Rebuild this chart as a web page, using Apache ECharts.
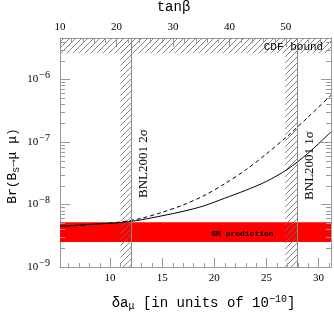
<!DOCTYPE html>
<html><head><meta charset="utf-8">
<script src="https://cdn.jsdelivr.net/npm/echarts@6/dist/echarts.min.js"></script>
<style>html,body{margin:0;padding:0;background:#fff}#c{width:334px;height:314px}</style>
</head><body><div id="c"></div>
<script>
// ---- data ----
const deltaA   = [5.2, 7, 9, 11, 13, 15, 17, 19, 21, 23, 25, 27, 29, 31.2];
const brSolid  = [4.47e-9, 4.68e-9, 4.9e-9, 5.13e-9, 5.69e-9, 6.6e-9, 7.76e-9, 9.5e-9, 1.26e-8, 1.68e-8, 2.34e-8, 3.63e-8, 6.6e-8, 1.45e-7];
const brDashed = [4.47e-9, 4.62e-9, 4.9e-9, 5.25e-9, 6.0e-9, 7.5e-9, 9.8e-9, 1.38e-8, 2.14e-8, 3.55e-8, 6.45e-8, 1.23e-7, 2.5e-7, 5.6e-7];
const smBand    = [2.5e-9, 5.2e-9];
const bnl2sigma = [11, 12];
const bnl1sigma = [26.8, 28];
const cdfBound  = 2.62e-6;
const xRange = [5.2, 31.2];
const tanBetaRange = [10, 58];
const yRange = [1e-9, 4.6e-6];
const labels = {
  bnl2: 'BNL2001 2σ', bnl1: 'BNL2001 1σ', sm: 'SM prediction', cdf: 'CDF bound',
  yTitle: 'Br(B{sub|S}→μ μ)'
};

// ---- minor tick positions ----
const yMinor = [];
for (let e = -9; e <= -6; e++) for (let k = 2; k <= 9; k++) { const v = k * Math.pow(10, e); if (v < yRange[1]) yMinor.push(v); }
const xMinor = [];
for (let v = 6; v <= 31; v++) if (v % 5 !== 0) xMinor.push(v);
const tbMinor = [];
for (let v = 12; v < 58; v += 2) if (v % 10 !== 0) tbMinor.push(v);

function hatch() {
  const c = document.createElement('canvas'); c.width = 6; c.height = 6;
  const g = c.getContext('2d'); g.strokeStyle = '#707070'; g.lineWidth = 0.85;
  g.beginPath();
  g.moveTo(0, 6); g.lineTo(6, 0);
  g.moveTo(-1, 1); g.lineTo(1, -1);
  g.moveTo(5, 7); g.lineTo(7, 5);
  g.stroke();
  return c;
}
const hatchFill = { image: hatch(), repeat: 'repeat' };

const AX = '#999';
const SERIF = 'Liberation Serif';
const MONO = 'Liberation Mono';

const chart = echarts.init(document.getElementById('c'), null, { renderer: 'canvas' });
const tickStyle = { stroke: AX, lineWidth: 1 };
const option = {
  animation: false,
  grid: { left: 60, right: 3, top: 38, bottom: 47, containLabel: false, outerBoundsMode: 'none' },
  graphic: [
    { type: 'text', x: 13, y: 166, rotation: Math.PI / 2, silent: true,
      style: { text: labels.yTitle, fontFamily: MONO, fontSize: 13, fill: '#000', align: 'center', verticalAlign: 'middle',
        rich: { sub: { fontFamily: MONO, fontSize: 9, padding: [7, 0, 0, 0] } } } }
  ],
  xAxis: [
    { type: 'value', min: xRange[0], max: xRange[1], position: 'bottom',
      axisLine: { lineStyle: { color: AX } },
      axisTick: { inside: true, length: 9, lineStyle: { color: AX } },
      splitLine: { show: false },
      axisLabel: { showMinLabel: false, showMaxLabel: false, fontFamily: SERIF, fontSize: 11, color: '#000', margin: 6 },
      name: 'δa{sub|μ} [in units of 10{sup|−10}]', nameLocation: 'middle', nameGap: 27,
      nameTextStyle: { fontFamily: MONO, fontSize: 14, color: '#000', padding: [0, 0, 0, 16],
        rich: { sub: { fontFamily: MONO, fontSize: 10, padding: [7, 0, 0, 0] },
                sup: { fontFamily: MONO, fontSize: 10, padding: [0, 0, 8, 0] } } } },
    { type: 'value', min: tanBetaRange[0], max: tanBetaRange[1], interval: 10, position: 'top',
      axisLine: { lineStyle: { color: AX } },
      axisTick: { inside: true, length: 9, lineStyle: { color: AX } },
      splitLine: { show: false },
      axisLabel: { showMaxLabel: false, fontFamily: SERIF, fontSize: 11, color: '#000', margin: 5 },
      name: 'tanβ', nameLocation: 'middle', nameGap: 24,
      nameTextStyle: { fontFamily: MONO, fontSize: 14, color: '#000', padding: [0, 44, 0, 0] } }
  ],
  yAxis: [
    { type: 'log', logBase: 10, min: yRange[0], max: yRange[1], position: 'left',
      axisLine: { lineStyle: { color: AX } },
      axisTick: { inside: true, length: 10, lineStyle: { color: AX } },
      splitLine: { show: false },
      axisLabel: { showMaxLabel: false, margin: 10, color: '#000',
        formatter: v => '{b|10}{s|−' + Math.abs(Math.round(Math.log10(v))) + '}',
        rich: { b: { fontFamily: SERIF, fontSize: 11, color: '#000' },
                s: { fontFamily: SERIF, fontSize: 10, color: '#000', padding: [0, 0, 8, 1] } } } },
    { type: 'log', logBase: 10, min: yRange[0], max: yRange[1], position: 'right',
      axisLine: { lineStyle: { color: AX } },
      axisTick: { inside: true, length: 10, lineStyle: { color: AX } },
      splitLine: { show: false }, axisLabel: { show: false } }
  ],
  series: [
    { type: 'line', data: [], z: 1, silent: true,
      markArea: { silent: true, itemStyle: { color: '#ff0000', opacity: 1 },
        data: [[{ yAxis: smBand[0] }, { yAxis: smBand[1] }]] },
      markPoint: { silent: true, symbol: 'circle', symbolSize: 0,
        label: { show: true, position: 'inside', formatter: labels.sm, fontFamily: MONO, fontSize: 8, fontWeight: 'bold', color: '#000' },
        data: [{ coord: [22.7, 3.4e-9] }] } },
    { type: 'line', data: [], z: 2, silent: true,
      markArea: { silent: true, itemStyle: { color: hatchFill, opacity: 1 },
        data: [
          [{ xAxis: bnl2sigma[0] }, { xAxis: bnl2sigma[1] }],
          [{ xAxis: bnl1sigma[0] }, { xAxis: bnl1sigma[1] }],
          [{ yAxis: cdfBound }, { yAxis: yRange[1] }]
        ] },
      markLine: { silent: true, symbol: 'none', label: { show: false },
        lineStyle: { color: '#888', width: 1, type: 'solid' },
        data: [{ xAxis: bnl2sigma[1] }, { xAxis: bnl1sigma[1] }, { yAxis: cdfBound }] },
      markPoint: { silent: true, symbol: 'circle', symbolSize: 0,
        data: [
          { coord: [13.2, 4.5e-8], label: { show: true, position: 'inside', rotate: 90, formatter: labels.bnl2, fontFamily: SERIF, fontSize: 13, color: '#000' } },
          { coord: [29.15, 4.2e-8], label: { show: true, position: 'inside', rotate: 90, formatter: labels.bnl1, fontFamily: SERIF, fontSize: 13, color: '#000' } },
          { coord: [27.6, 3.3e-6], label: { show: true, position: 'inside', formatter: labels.cdf, fontFamily: MONO, fontSize: 11, color: '#000' } }
        ] } },
    { type: 'line', z: 4, showSymbol: false, smooth: 0.3, silent: true,
      lineStyle: { color: '#000', width: 1 },
      data: deltaA.map((x, i) => [x, brSolid[i]]) },
    { type: 'line', z: 4, showSymbol: false, smooth: 0.3, silent: true,
      lineStyle: { color: '#000', width: 1, type: [4, 3] },
      data: deltaA.map((x, i) => [x, brDashed[i]]) },
    { type: 'custom', z: 5, silent: true, xAxisIndex: 0, yAxisIndex: 0,
      data: yMinor.map(v => [0, v]).concat(xMinor.map(v => [1, v])),
      renderItem: (params, api) => {
        const cs = params.coordSys; const kind = api.value(0); const v = api.value(1);
        if (kind === 0) {
          const y = Math.round(api.coord([xRange[0], v])[1]) + 0.5;
          return { type: 'group', children: [
            { type: 'line', shape: { x1: cs.x, y1: y, x2: cs.x + 5, y2: y }, style: tickStyle },
            { type: 'line', shape: { x1: cs.x + cs.width - 5, y1: y, x2: cs.x + cs.width, y2: y }, style: tickStyle } ] };
        }
        const x = Math.round(api.coord([v, yRange[0]])[0]) + 0.5;
        return { type: 'line', shape: { x1: x, y1: cs.y + cs.height, x2: x, y2: cs.y + cs.height - 4 }, style: tickStyle };
      } },
    { type: 'custom', z: 5, silent: true, xAxisIndex: 1, yAxisIndex: 0,
      data: tbMinor.map(v => [v, yRange[1]]),
      renderItem: (params, api) => {
        const cs = params.coordSys;
        const x = Math.round(api.coord([api.value(0), yRange[1]])[0]) + 0.5;
        return { type: 'line', shape: { x1: x, y1: cs.y, x2: x, y2: cs.y + 5 }, style: tickStyle };
      } }
  ]
};
chart.setOption(option);
</script></body></html>
